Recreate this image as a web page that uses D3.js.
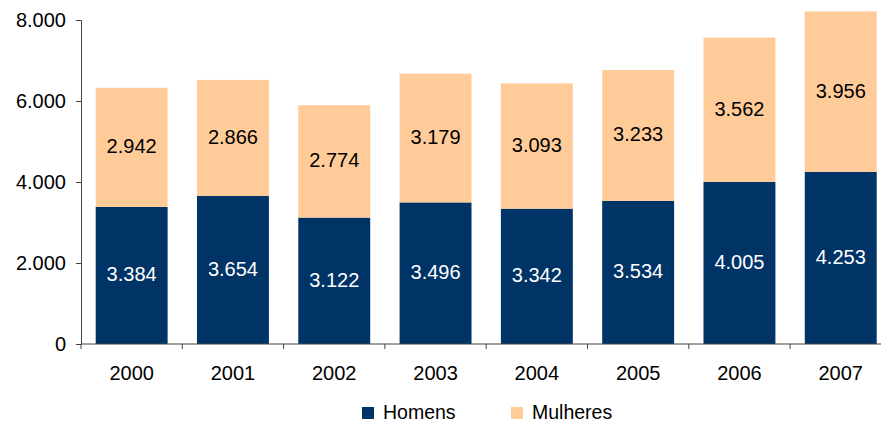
<!DOCTYPE html>
<meta charset="utf-8">
<style>
body { margin: 0; background: #fff; }
text { font-family: "Liberation Sans", Arial, sans-serif; fill: #000; }
.domain, .tick line { stroke: #444; }
</style>
<body>
<div id="chart"></div>
<script src="https://d3js.org/d3.v7.min.js"></script>
<script>
// data
var years = ["2000", "2001", "2002", "2003", "2004", "2005", "2006", "2007"];
var homens = [3384, 3654, 3122, 3496, 3342, 3534, 4005, 4253];
var mulheres = [2942, 2866, 2774, 3179, 3093, 3233, 3562, 3956];
var yTicks = [0, 2000, 4000, 6000, 8000];
var seriesNames = ["Homens", "Mulheres"];
var colors = ["#003366", "#FFCC99"];

var width = 881, height = 423;
var plotTop = 20, plotBottom = 344, plotLeft = 81;

var svg = d3.select("#chart").append("svg")
    .attr("width", width)
    .attr("height", height);

var x = d3.scaleBand().domain(years).range([plotLeft, plotLeft + 8 * 101.3]).paddingInner(0.29).paddingOuter(0.145);
var y = d3.scaleLinear().domain([0, 8000]).range([plotBottom, plotTop]);

var fmt = function(v) { return d3.format(",")(v).replace(/,/g, "."); };

var rows = years.map(function(yr, i) { return {year: yr, Homens: homens[i], Mulheres: mulheres[i]}; });
var stacked = d3.stack().keys(seriesNames)(rows);

var groups = svg.selectAll("g.series")
  .data(stacked)
  .enter().append("g")
    .attr("class", "series")
    .attr("fill", function(d, i) { return colors[i]; });

groups.selectAll("rect")
  .data(function(d) { return d; })
  .enter().append("rect")
    .attr("x", function(d) { return x(d.data.year); })
    .attr("width", x.bandwidth())
    .attr("y", function(d) { return y(d[1]); })
    .attr("height", function(d) { return y(d[0]) - y(d[1]); });

// value labels
stacked.forEach(function(s, si) {
  svg.selectAll("text.v" + si)
    .data(s)
    .enter().append("text")
      .attr("class", "v" + si)
      .attr("x", function(d) { return x(d.data.year) + x.bandwidth() / 2; })
      .attr("y", function(d) { return (y(d[0]) + y(d[1])) / 2; })
      .attr("dy", "0.3em")
      .attr("text-anchor", "middle")
      .style("font-size", "20px")
      .style("fill", si === 0 ? "#fff" : "#000")
      .text(function(d) { return fmt(d[1] - d[0]); });
});

// y axis
var yAxis = svg.append("g")
  .attr("transform", "translate(" + plotLeft + ",0)")
  .call(d3.axisLeft(y).tickValues(yTicks).tickSize(5).tickFormat(fmt));
yAxis.selectAll("text").style("font-size", "20px").attr("x", -15);

// x axis
var xAxis = svg.append("g")
  .attr("transform", "translate(0," + plotBottom + ")")
  .call(d3.axisBottom(x).tickSize(0));
xAxis.select(".domain").attr("d", "M" + plotLeft + ",0H" + width);
xAxis.selectAll("text").style("font-size", "20px").attr("y", 22);

// category separator ticks
svg.selectAll("line.sep")
  .data(years)
  .enter().append("line")
    .attr("class", "sep")
    .attr("x1", function(d) { return x(d) - x.step() * x.paddingInner() / 2; })
    .attr("x2", function(d) { return x(d) - x.step() * x.paddingInner() / 2; })
    .attr("y1", plotBottom)
    .attr("y2", plotBottom + 5)
    .attr("stroke", "#444");

// legend
var legendX = [362, 511];
var legend = svg.selectAll("g.legend")
  .data(seriesNames)
  .enter().append("g")
    .attr("class", "legend")
    .attr("transform", function(d, i) { return "translate(" + legendX[i] + ",407)"; });
legend.append("rect")
  .attr("width", 12).attr("height", 12)
  .attr("fill", function(d, i) { return colors[i]; });
legend.append("text")
  .attr("x", 21).attr("y", 5).attr("dy", "0.35em")
  .style("font-size", "19.5px")
  .text(function(d) { return d; });
</script>
</body>
